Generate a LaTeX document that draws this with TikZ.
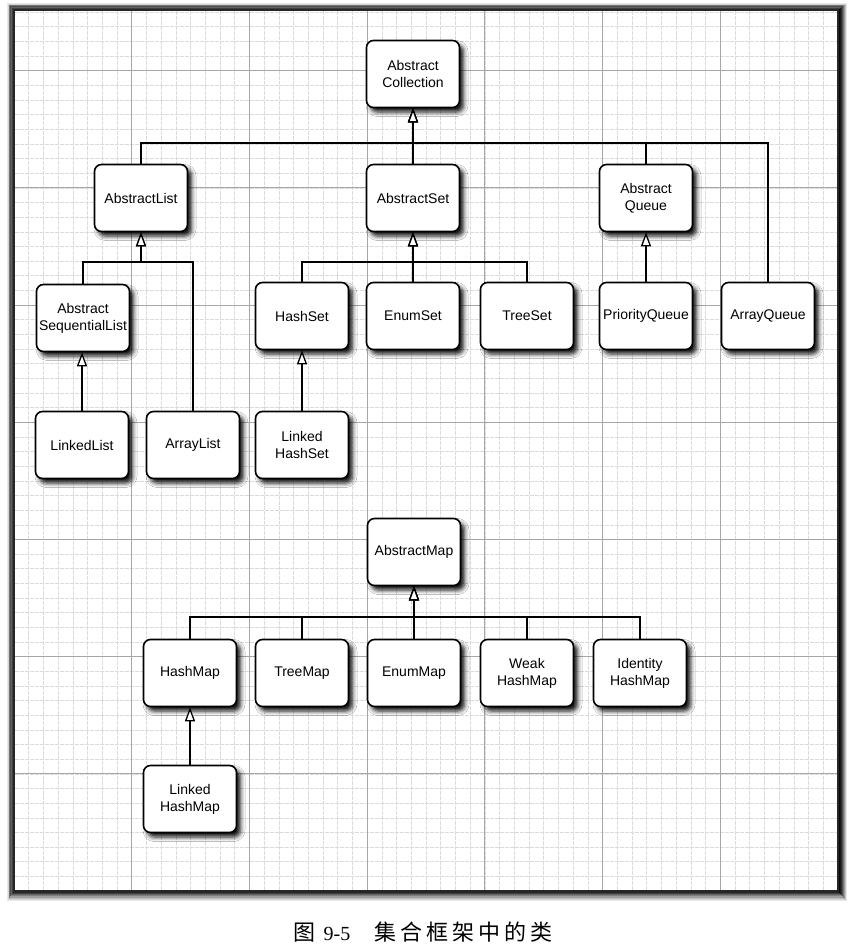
\documentclass[tikz,border=0pt]{standalone}
\usepackage{fontspec}
\setmainfont{Liberation Sans}
\newfontfamily\cjk{Noto Sans CJK SC}
\newfontfamily\serifnum{Liberation Serif}
\usetikzlibrary{arrows.meta,shadows.blur}
\begin{document}
\begin{tikzpicture}[x=1pt,y=-1pt,
  cls/.style={draw=black, line width=1.6pt, fill=white, rounded corners=7pt,
    minimum width=93pt, minimum height=67pt, inner sep=0pt, align=center,
    font=\fontsize{14}{17}\selectfont,
    blur shadow={shadow xshift=4pt, shadow yshift=-4.5pt, shadow blur radius=4.5pt, shadow opacity=95}},
  conn/.style={line width=1.5pt, -{Triangle[length=14pt,width=10pt,fill=white,line width=1.3pt]}},
  minor/.style={gray!28, line width=0.5pt, dash pattern=on 4pt off 1pt},
  major/.style={gray!70, line width=0.9pt},
  panelfill/.style={fill=white}]
\useasboundingbox (0,0) rectangle (850,945);

% panel shadow band
\foreach \d/\op in {1/0.85,2/0.75,3/0.62,4/0.5,5/0.38,6/0.27,7/0.17,8/0.09} {
  \draw[black, opacity=\op, line width=1.1pt] ({14-\d*0.8},{10-\d*0.8}) rectangle ({838+\d},{891+\d*1.2});
}
\path[panelfill] (14,10) rectangle (838,891);
% grid
\foreach \i in {1,...,55} {
  \draw[minor] ({14+\i*14.714},11) -- ({14+\i*14.714},890);
}
\foreach \j in {1,...,60} {
  \draw[minor] (15,{891-\j*14.65}) -- (837,{891-\j*14.65});
}
\foreach \k in {1,...,6} {
  \draw[major] ({14+\k*117.71},11) -- ({14+\k*117.71},890);
}
\foreach \k in {1,...,7} {
  \draw[major] (15,{891-\k*117.2}) -- (837,{891-\k*117.2});
}
\draw[black!85, line width=1.5pt] (14,10) rectangle (838,891);

% nodes
\node[cls] (AC)  at (413,74)  {Abstract\\Collection};
\node[cls] (AL)  at (141,198) {AbstractList};
\node[cls] (AS)  at (413,198) {AbstractSet};
\node[cls] (AQ)  at (646,198) {Abstract\\Queue};
\node[cls] (ASL) at (83,318)  {Abstract\\SequentialList};
\node[cls] (HS)  at (302,316) {HashSet};
\node[cls] (ES)  at (413,316) {EnumSet};
\node[cls] (TS)  at (527,316) {TreeSet};
\node[cls] (PQ)  at (646,316) {PriorityQueue};
\node[cls] (AQu) at (768,316) {ArrayQueue};
\node[cls] (LL)  at (82,445)  {LinkedList};
\node[cls] (ArL) at (193,445) {ArrayList};
\node[cls] (LHS) at (302,445) {Linked\\HashSet};
\node[cls] (AM)  at (414,552) {AbstractMap};
\node[cls] (HM)  at (190,673) {HashMap};
\node[cls] (TM)  at (302,673) {TreeMap};
\node[cls] (EM)  at (414,673) {EnumMap};
\node[cls] (WHM) at (527,673) {Weak\\HashMap};
\node[cls] (IHM) at (640,673) {Identity\\HashMap};
\node[cls] (LHM) at (190,799) {Linked\\HashMap};

% bus points
\coordinate (busC) at (413,143);
\coordinate (busL) at (141,262);
\coordinate (busS) at (413,262);
\coordinate (busM) at (414,617);

% connectors
\draw[conn] (AL.north) |- (busC) -- (AC.south);
\draw[conn] (AS.north) -- (AC.south);
\draw[conn] (AQ.north) |- (busC) -- (AC.south);
\draw[conn] (AQu.north) |- (busC) -- (AC.south);

\draw[conn] (ASL.north) |- (busL) -- (AL.south);
\draw[conn] (ArL.north) |- (busL) -- (AL.south);

\draw[conn] (HS.north) |- (busS) -- (AS.south);
\draw[conn] (ES.north) -- (AS.south);
\draw[conn] (TS.north) |- (busS) -- (AS.south);

\draw[conn] (PQ.north) -- (AQ.south);
\draw[conn] (LL.north) -- (ASL.south -| LL.north);
\draw[conn] (LHS.north) -- (HS.south);

\draw[conn] (HM.north) |- (busM) -- (AM.south);
\draw[conn] (TM.north) |- (busM) -- (AM.south);
\draw[conn] (EM.north) -- (AM.south);
\draw[conn] (WHM.north) |- (busM) -- (AM.south);
\draw[conn] (IHM.north) |- (busM) -- (AM.south);
\draw[conn] (LHM.north) -- (HM.south);

% caption
\node[inner sep=0pt] (cap) at (423,932)
  {\fontsize{22}{24}\selectfont{\cjk 图}\hspace{8pt}{\serifnum\fontsize{20}{24}\selectfont 9-5}\hspace{24pt}{\cjk 集\hspace{4pt}合\hspace{4pt}框\hspace{4pt}架\hspace{4pt}中\hspace{4pt}的\hspace{4pt}类}};
\end{tikzpicture}
\end{document}
